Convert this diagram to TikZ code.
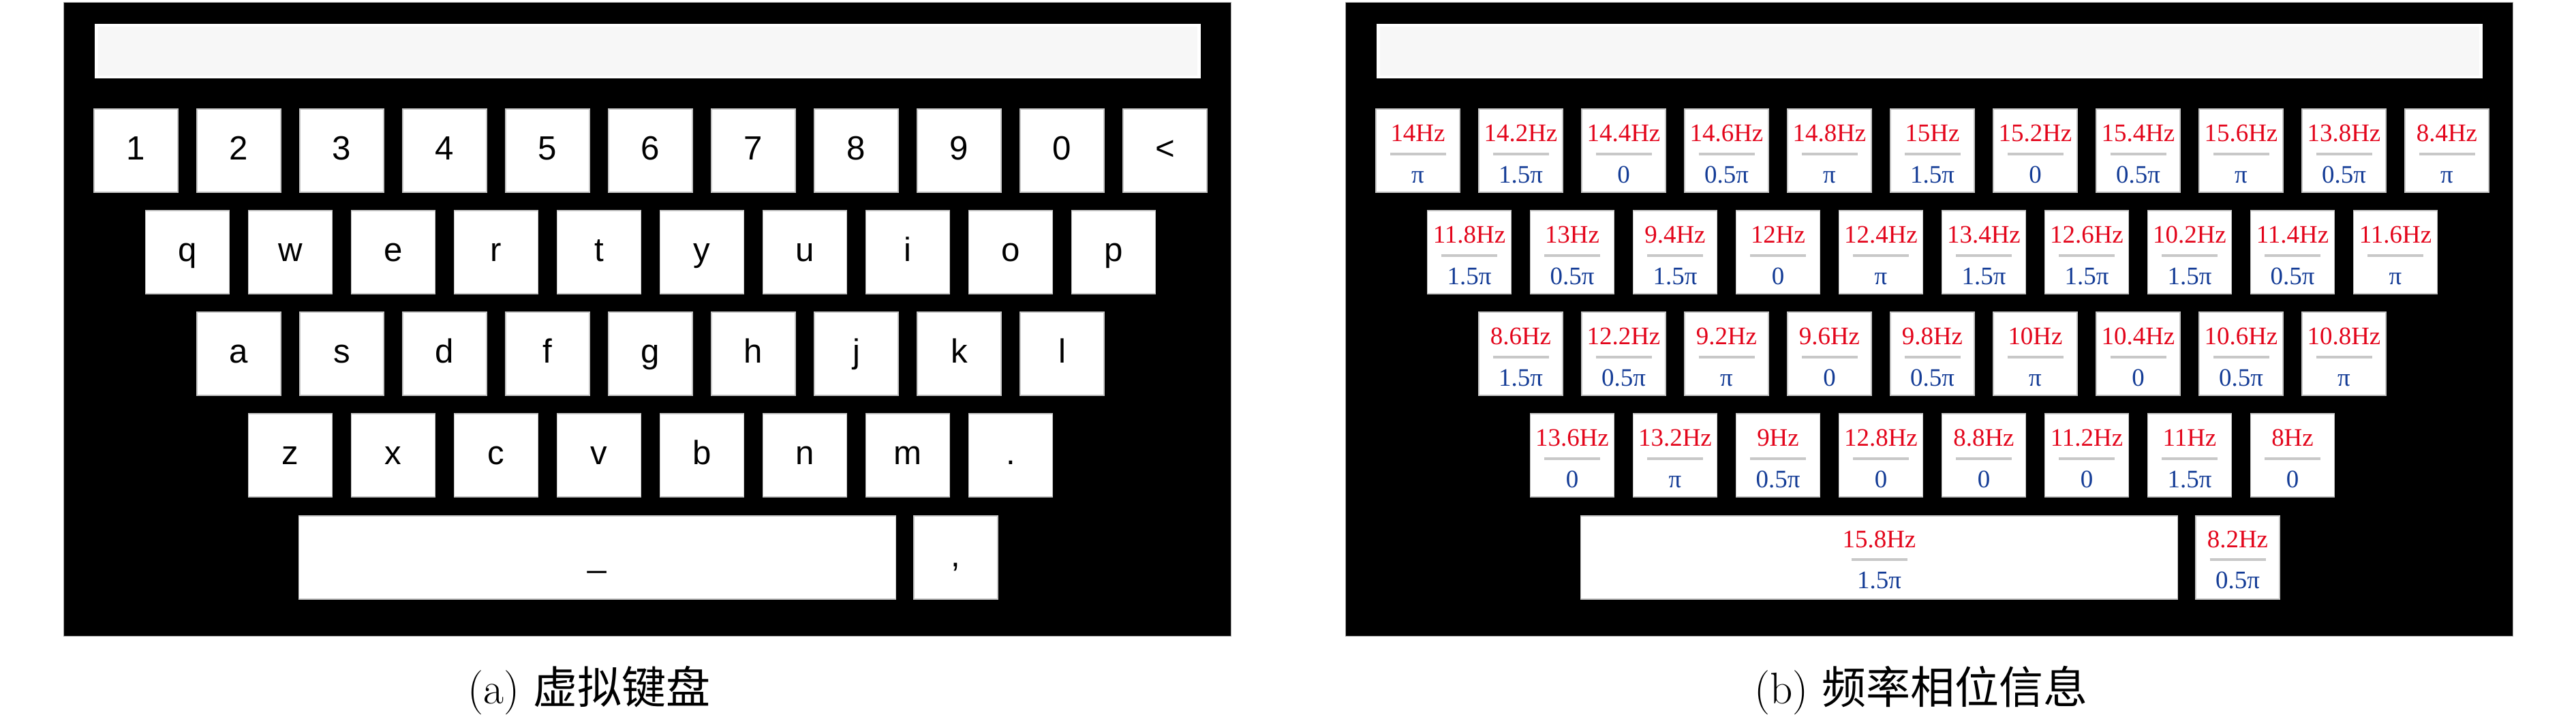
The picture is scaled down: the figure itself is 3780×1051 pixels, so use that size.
\documentclass[tikz,border=0pt]{standalone}
\usepackage{fontspec}
\newfontfamily\keyfont{Liberation Sans}
\newfontfamily\timesfont{Liberation Serif}
\newfontfamily\cjk{Noto Sans CJK SC}
\definecolor{hzRed}{HTML}{E3051B}
\definecolor{phaseBlue}{HTML}{143C96}
\definecolor{barGray}{HTML}{C8C8C8}
\definecolor{fieldGray}{HTML}{F7F7F7}
\tikzset{
    panel/.style={fill=black,draw=gray!70,line width=0.4pt,minimum width=17.12cm,minimum height=9.29cm,inner sep=0pt},
    field/.style={fill=fieldGray,draw=white,line width=1.2pt,minimum width=16.17cm,minimum height=0.76cm,inner sep=0pt},
    key/.style={fill=white,draw=gray!45,line width=0.4pt,minimum width=1.23cm,minimum height=1.22cm,inner sep=0pt},
    keylbl/.style={key,font=\keyfont\fontsize{14}{14}\selectfont,text height=0.9em,text depth=0.12em},
    hzlbl/.style={anchor=base,inner sep=0pt,text=hzRed,font=\timesfont\fontsize{10.5}{10.5}\selectfont},
    phaselbl/.style={hzlbl,text=phaseBlue},
    bar/.style={barGray,line width=0.04cm},
    caption/.style={anchor=base,inner sep=0pt,font=\fontsize{18.5}{18.5}\selectfont}
}
\begin{document}
\begin{tikzpicture}[x=0.01cm,y=-0.01cm]
        \def\pitch{151}
        \def\rowStep{149}
        \def\shiftB{1881}

        \useasboundingbox (0,0) rectangle (3780,1051);

        % Panels
        \foreach \dx/\name in {0/a,\shiftB/b} {
                \node[panel] (\name-panel) at (950+\dx,468.5) {};
                \node[field] (\name-field) at (950.5+\dx,75) {};
            }

        % Keyboard (a)
        \foreach \row/\start/\keys in {0/138/{1,2,3,4,5,6,7,8,9,0,<},1/213.5/{q,w,e,r,t,y,u,i,o,p},2/289/{a,s,d,f,g,h,j,k,l},3/364.5/{z,x,c,v,b,n,m,.}} {
                \foreach \k [count=\c from 0] in \keys {
                        \node[keylbl] (a-\row-\c) at (\start+61.5+\c*\pitch,221+\row*\rowStep) {\k};
                    }
            }
        \node[keylbl,minimum width=8.75cm] (a-space) at (876.5,818) {\_};
        \node[keylbl] (a-comma) at (1402.5,818) {,};

        % Frequency / phase (b)
        \foreach \row/\start/\keys in {0/138/{14Hz/π,14.2Hz/1.5π,14.4Hz/0,14.6Hz/0.5π,14.8Hz/π,15Hz/1.5π,15.2Hz/0,15.4Hz/0.5π,15.6Hz/π,13.8Hz/0.5π,8.4Hz/π},1/213.5/{11.8Hz/1.5π,13Hz/0.5π,9.4Hz/1.5π,12Hz/0,12.4Hz/π,13.4Hz/1.5π,12.6Hz/1.5π,10.2Hz/1.5π,11.4Hz/0.5π,11.6Hz/π},2/289/{8.6Hz/1.5π,12.2Hz/0.5π,9.2Hz/π,9.6Hz/0,9.8Hz/0.5π,10Hz/π,10.4Hz/0,10.6Hz/0.5π,10.8Hz/π},3/364.5/{13.6Hz/0,13.2Hz/π,9Hz/0.5π,12.8Hz/0,8.8Hz/0,11.2Hz/0,11Hz/1.5π,8Hz/0}} {
                \foreach \hzTxt/\phTxt [count=\c from 0] in \keys {
                        \node[key] (b-\row-\c) at (\shiftB+\start+61.5+\c*\pitch,221+\row*\rowStep) {};
                        \node[hzlbl] (b-\row-\c-hz) at ([shift={(0,-14)}]b-\row-\c.center) {\hzTxt};
                        \draw[bar] ([shift={(-41,5)}]b-\row-\c.center) -- ([shift={(41,5)}]b-\row-\c.center);
                        \node[phaselbl] (b-\row-\c-ph) at ([shift={(0,47)}]b-\row-\c.center) {\phTxt};
                    }
            }
        \foreach \name/\x/\w/\hzTxt/\phTxt in {space/876.5/8.75cm/15.8Hz/1.5π,comma/1402.5/1.23cm/8.2Hz/0.5π} {
                \node[key,minimum width=\w] (b-\name) at (\shiftB+\x,818) {};
                \node[hzlbl] (b-\name-hz) at ([shift={(0,-15)}]b-\name.center) {\hzTxt};
                \draw[bar] ([shift={(-41,3)}]b-\name.center) -- ([shift={(41,3)}]b-\name.center);
                \node[phaselbl] (b-\name-ph) at ([shift={(0,45)}]b-\name.center) {\phTxt};
            }

        % Captions
        \node[caption] (a-caption) at (864.5,1032) {(a) {\cjk 虚拟键盘}};
        \node[caption] (b-caption) at (2819,1032) {(b) {\cjk 频率相位信息}};
    \end{tikzpicture}
\end{document}
